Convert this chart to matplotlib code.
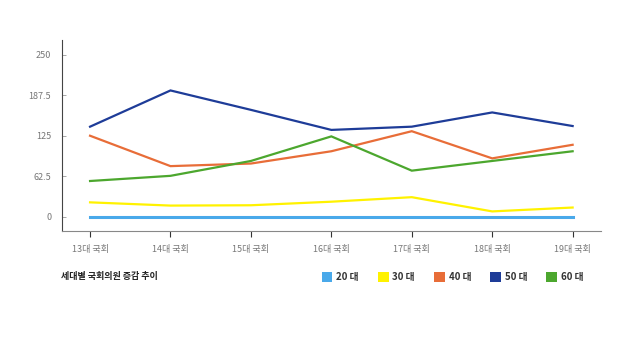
import matplotlib
matplotlib.use("Agg")
import matplotlib.pyplot as plt
from matplotlib.patches import Patch

plt.rcParams['font.family'] = ['Noto Sans CJK KR', 'DejaVu Sans']

# data
sessions = ['13대 국회', '14대 국회', '15대 국회', '16대 국회', '17대 국회', '18대 국회', '19대 국회']
age_20 = [0, 0, 0, 0, 0, 0, 0]
age_30 = [22, 17, 17.5, 23, 30, 8, 14]
age_40 = [125, 78, 82, 101, 132, 90, 111]
age_50 = [139, 195, 165, 134, 139, 161, 140]
age_60 = [55, 63, 86, 124, 71, 86, 101]
series_names = ['20 대', '30 대', '40 대', '50 대', '60 대']
yticks = [0, 62.5, 125, 187.5, 250]

colors = ['#49A9EA', '#FFF200', '#E86D38', '#1E3C98', '#4CA72E']

fig = plt.figure(figsize=(6.2, 3.39), dpi=100)
ax = fig.add_axes([0.1005, 0.318, 0.8685, 0.564])

x = list(range(len(sessions)))
all_series = [age_20, age_30, age_40, age_50, age_60]
for i, (vals, c) in enumerate(zip(all_series, colors)):
    lw = 2.2 if i == 0 else 1.6
    ax.plot(x, vals, color=c, lw=lw, solid_joinstyle='miter', zorder=3 if i else 2)

ax.set_xlim(-0.345, 6.35)
ax.set_ylim(-22.6, 273)
ax.set_xticks(x)
ax.set_xticklabels(sessions)
ax.set_yticks(yticks)
ax.set_yticklabels(['0', '62.5', '125', '187.5', '250'])

for s in ['top', 'right']:
    ax.spines[s].set_visible(False)
ax.spines['left'].set_color('#444444')
ax.spines['bottom'].set_color('#888888')
ax.spines['left'].set_linewidth(0.8)
ax.spines['bottom'].set_linewidth(0.8)
ax.tick_params(axis='y', direction='in', length=3, width=0.6, color='#999999', labelsize=6.5,
               labelcolor='#777777', pad=8)
ax.tick_params(axis='x', length=4, width=0.8, color='#333333', labelsize=6.5,
               labelcolor='#777777', pad=6)

fig.text(0.099, 0.183, '세대별 국회의원 증감 추이', fontsize=6.5, fontweight='bold',
         color='#222222', va='center', ha='left')

handles = [Patch(facecolor=c, edgecolor='none') for c in colors]
leg = fig.legend(handles, series_names, loc='center left', bbox_to_anchor=(0.511, 0.182),
                 ncol=5, frameon=False, fontsize=7, handlelength=1.1, handleheight=1.1,
                 handletextpad=0.4, columnspacing=1.95, borderpad=0)
for t in leg.get_texts():
    t.set_fontweight('bold')
    t.set_color('#333333')

fig.savefig('out.png', dpi=100)
